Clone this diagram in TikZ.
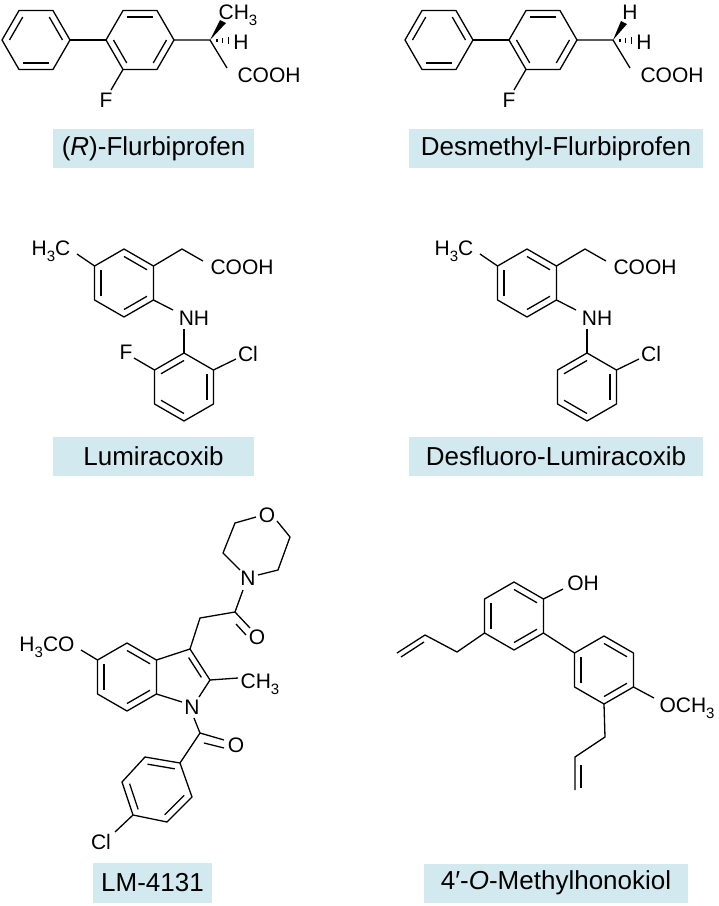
\documentclass[tikz,border=0pt]{standalone}
\usepackage{fontspec}
\setmainfont{Liberation Sans}
\usetikzlibrary{calc}
\definecolor{lblue}{HTML}{D3E9F0}
\newcommand{\subs}[1]{\raisebox{-0.28em}{\fontsize{15}{15}\selectfont #1}}
\newcommand{\mkring}[4]{% name, cx, cy, start angle
  \foreach \k in {0,...,5}{\coordinate (#1\k) at ($(#2,#3)+({#4+60*\k}:34)$);}}
\newcommand{\inner}[3]{\draw ($(#3)!0.78!(#1)$) -- ($(#3)!0.78!(#2)$);}
\newcommand{\hexa}[1]{\draw (#10)--(#11)--(#12)--(#13)--(#14)--(#15)--cycle;}
\begin{document}
\begin{tikzpicture}[x=1pt,y=-1pt,line width=1.3pt,line join=round,
  atom/.style={inner sep=0pt,font=\fontsize{21}{21}\selectfont},
  lbl/.style={fill=lblue,inner sep=0pt,minimum height=39pt,font=\fontsize{26}{26}\selectfont}]
\useasboundingbox (0,0) rectangle (719,906);
% ---------- Flurbiprofen pair ----------
\foreach \dx/\des in {0/0,403/1}{
\begin{scope}[xshift=\dx pt]
  \coordinate (Lc) at (36,40); \coordinate (Mc) at (140,40);
  \mkring{L}{36}{40}{0} \mkring{M}{140}{40}{0}
  \hexa{L} \hexa{M}
  \inner{L1}{L2}{Lc} \inner{L3}{L4}{Lc} \inner{L5}{L0}{Lc}
  \inner{M4}{M5}{Mc} \inner{M0}{M1}{Mc} \inner{M2}{M3}{Mc}
  \draw (L0) -- (M3);
  \node[atom] (F) at (106,100) {F};
  \draw (M2) -- (111,90);
  \coordinate (C) at (210,40);
  \draw (M0) -- (C) -- (227,68);
  \node[atom] (COOH) at (269,75) {COOH};
  \node[atom] (H) at (241,42) {H};
  \foreach \t/\h in {0.3/1.5,0.55/2.5,0.8/3.5}{\draw[line width=1.2pt] ($(C)!\t!(233,41)+(0,-\h)$) -- ++(0,2*\h);}
  \ifnum\des=0
    \fill (C) -- (220,20) -- (226,23) -- cycle;
    \node[atom,anchor=west] (CH3) at (218,15) {CH\subs{3}};
  \else
    \fill (C) -- (218,21) -- (224,24) -- cycle;
    \node[atom] (H2) at (227,12) {H};
  \fi
\end{scope}}
\node[lbl,minimum width=201pt] (n1) at (153.5,148.5) {(\textit{R})-Flurbiprofen};
\node[lbl,minimum width=294pt] (n2) at (556,148.5) {Desmethyl-Flurbiprofen};
% ---------- Lumiracoxib pair ----------
\foreach \dx/\des in {0/0,403/1}{
\begin{scope}[xshift=\dx pt]
  \coordinate (Tc) at (124,283); \coordinate (Bc) at (184,387);
  \mkring{T}{124}{283}{270} \mkring{B}{184}{387}{270}
  \hexa{T} \hexa{B}
  \inner{T0}{T1}{Tc} \inner{T2}{T3}{Tc} \inner{T4}{T5}{Tc}
  \inner{B5}{B0}{Bc} \inner{B1}{B2}{Bc} \inner{B3}{B4}{Bc}
  \node[atom] (me) at (51,251) {H\subs{3}C};
  \draw (T5) -- (77,254);
  \draw (T1) -- (182,249) -- (203,261);
  \node[atom] (co) at (242,267) {COOH};
  \node[atom] (nh) at (194,318) {NH};
  \draw (T2) -- (173,310);
  \draw (184,329) -- (B0);
  \node[atom] (cl) at (248,354) {Cl};
  \draw (B1) -- (236,359);
  \ifnum\des=0
    \node[atom] (f) at (126,352) {F};
    \draw (B5) -- (134,358);
  \fi
\end{scope}}
\node[lbl,minimum width=201pt] (n3) at (153.5,456.5) {Lumiracoxib};
\node[lbl,minimum width=294pt] (n4) at (556,456.5) {Desfluoro-Lumiracoxib};
% ---------- LM-4131 ----------
\coordinate (Ic) at (127,677);
\mkring{I}{127}{677}{270}
\hexa{I}
\inner{I0}{I1}{Ic} \inner{I2}{I3}{Ic} \inner{I4}{I5}{Ic}
\coordinate (C3) at (190,649); \coordinate (C2) at (210,680);
\node[atom] (N1) at (192,707) {N};
\draw (I1) -- (C3) -- (C2) -- (199,697);
\draw (I2) -- (182,702);
\draw ($(C3)!0.18!(C2)+(-5,3)$) -- ($(C2)!0.18!(C3)+(-5,3)$);
\node[atom] (meo) at (47,647) {H\subs{3}CO};
\draw (I5) -- (81,650);
\node[atom] (me2) at (260,684) {CH\subs{3}};
\draw (C2) -- (238,678);
\coordinate (Cco) at (235,612);
\draw (C3) -- (200,618) -- (Cco);
\node[atom] (O1) at (257,637) {O};
\draw (Cco) -- (250,628);
\draw (236,624) -- (246,635);
\node[atom] (Nm) at (248,578) {N};
\draw (Cco) -- (243,590);
\node[atom] (Om) at (267,515) {O};
\draw (258,575) -- (278,570) -- (290,537) -- (277,521);
\draw (256,517) -- (235,523) -- (223,553) -- (240,570);
\coordinate (Ca) at (200,733);
\draw (194,718) -- (Ca) -- (180,763);
\node[atom] (O2) at (236,745) {O};
\draw (Ca) -- (224,740);
\draw (204,743) -- (224,748);
\coordinate (p1) at (180,763); \coordinate (p2) at (192,797); \coordinate (p3) at (167,822);
\coordinate (p4) at (133,815); \coordinate (p5) at (122,782); \coordinate (p6) at (145,757);
\coordinate (pc) at (156.5,789.5);
\draw (p1)--(p2)--(p3)--(p4)--(p5)--(p6)--cycle;
\inner{p6}{p1}{pc} \inner{p4}{p5}{pc} \inner{p2}{p3}{pc}
\node[atom] (cl2) at (101,842) {Cl};
\draw (p4) -- (115,832);
\node[lbl,minimum width=119pt,minimum height=40pt] (n5) at (152.5,883) {LM-4131};
% ---------- 4'-O-Methylhonokiol ----------
\coordinate (Ac) at (514,616); \coordinate (Dc) at (604,670);
\mkring{A}{514}{616}{270} \mkring{D}{604}{670}{270}
\hexa{A} \hexa{D}
\inner{A0}{A1}{Ac} \inner{A2}{A3}{Ac} \inner{A4}{A5}{Ac}
\inner{D0}{D1}{Dc} \inner{D2}{D3}{Dc} \inner{D4}{D5}{Dc}
\draw (A2) -- (D5);
\node[atom] (oh) at (583,583) {OH};
\draw (A1) -- (563,589);
\draw (A4) -- (457,652) -- (425,635) -- (397,653);
\draw (424,642) -- (401,657);
\node[atom] (ome) at (687,708) {OCH\subs{3}};
\draw (D2) -- (654,698);
\draw (D3) -- (605,737) -- (575,757) -- (575,790);
\draw (581,765) -- (581,788);
\node[lbl,minimum width=264pt] (n6) at (556,883) {4′-\textit{O}-Methylhonokiol};
\end{tikzpicture}
\end{document}
